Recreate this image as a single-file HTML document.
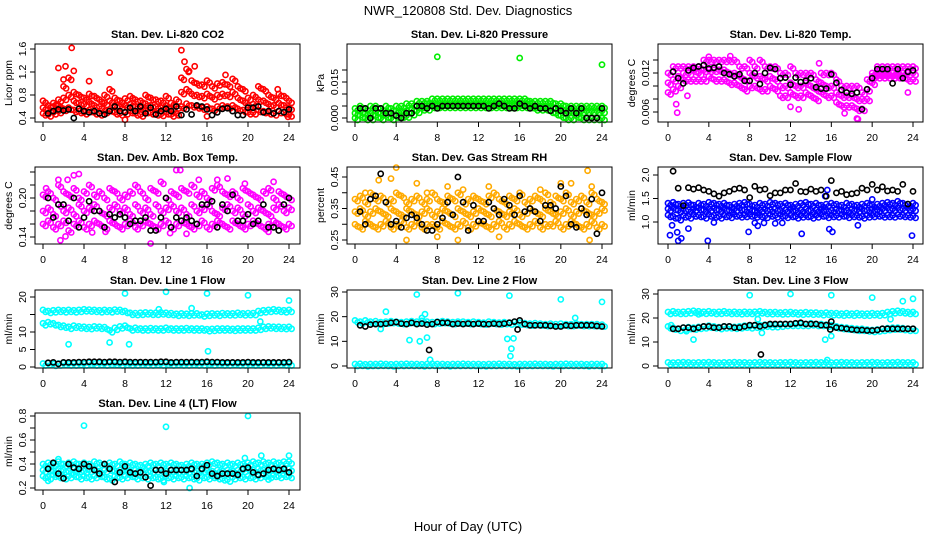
<!DOCTYPE html>
<html><head><meta charset="utf-8"><title>NWR_120808 Std. Dev. Diagnostics</title>
<style>
html,body{margin:0;padding:0;background:#fff}
svg{display:block;font-family:"Liberation Sans",Arial,sans-serif}
</style></head>
<body>
<svg id="chart" width="936" height="540" viewBox="0 0 936 540" xmlns="http://www.w3.org/2000/svg">
<text x="468" y="15" text-anchor="middle" font-size="13">NWR_120808 Std. Dev. Diagnostics</text>
<text x="468" y="531" text-anchor="middle" font-size="13">Hour of Day (UTC)</text>
</svg>
<script>
const hours=[0,0.5,1,1.5,2,2.5,3,3.5,4,4.5,5,5.5,6,6.5,7,7.5,8,8.5,9,9.5,10,10.5,11,11.5,12,12.5,13,13.5,14,14.5,15,15.5,16,16.5,17,17.5,18,18.5,19,19.5,20,20.5,21,21.5,22,22.5,23,23.5,24];
const xTicks=[0,4,8,12,16,20,24];
const xTickLabels=["0","4","8","12","16","20","24"];

// Panel 1: CO2
const co2Hi=[0.70,0.62,0.66,0.72,0.95,1.10,0.85,0.80,0.75,0.82,0.78,0.72,0.80,0.90,0.75,0.70,0.74,0.78,0.72,0.70,0.80,0.75,0.72,0.70,0.78,0.66,0.72,1.10,1.25,1.05,1.00,0.98,1.05,0.95,1.00,1.02,0.98,1.08,0.95,0.90,0.75,0.80,0.95,0.90,0.80,0.75,0.82,0.78,0.70];
const co2Mid=[0.58,0.55,0.60,0.62,0.75,0.80,0.70,0.66,0.64,0.68,0.62,0.60,0.66,0.70,0.62,0.60,0.62,0.64,0.60,0.58,0.65,0.62,0.60,0.58,0.62,0.56,0.60,0.85,0.90,0.82,0.80,0.78,0.82,0.76,0.80,0.82,0.80,0.85,0.75,0.70,0.62,0.64,0.72,0.70,0.64,0.62,0.66,0.62,0.58];
const co2Lo=[0.48,0.46,0.50,0.52,0.56,0.58,0.54,0.52,0.50,0.54,0.50,0.48,0.52,0.55,0.50,0.48,0.50,0.52,0.48,0.46,0.52,0.50,0.48,0.47,0.50,0.46,0.48,0.60,0.65,0.62,0.60,0.58,0.60,0.56,0.60,0.62,0.60,0.62,0.56,0.54,0.50,0.50,0.54,0.52,0.50,0.48,0.52,0.50,0.46];
const co2OutX=[2.8,1.5,2.2,3,6.5,4.5,13.5,13.8,14.8,8,16,23.9,17.8,22.9,2.0,14.2];
const co2OutY=[1.62,1.27,1.30,1.22,1.19,1.04,1.58,1.38,1.30,0.37,0.43,0.42,1.15,0.90,1.07,1.20];
const co2Blk=[null,0.48,0.52,0.55,0.53,0.55,0.40,0.56,0.52,0.50,0.52,0.48,0.46,0.52,0.60,0.52,0.50,0.58,0.52,0.60,0.48,0.58,0.46,0.52,0.56,0.52,0.60,0.45,0.55,0.46,0.62,0.60,0.55,0.45,0.50,0.56,0.57,0.52,0.45,0.45,0.58,0.58,0.60,0.50,0.52,0.48,0.52,0.50,0.55];

// Panel 2: Pressure
const prHi=[0.004,0.005,0.004,0.005,0.005,0.004,0.005,0.004,0.005,0.005,0.006,0.006,0.007,0.007,0.007,0.008,0.008,0.008,0.008,0.008,0.008,0.008,0.008,0.008,0.008,0.008,0.008,0.008,0.008,0.008,0.008,0.008,0.008,0.008,0.007,0.007,0.007,0.007,0.007,0.006,0.006,0.005,0.005,0.005,0.005,0.005,0.005,0.005,0.005];
const prMid=[0.002,0.003,0.002,0.002,0.003,0.002,0.003,0.002,0.003,0.003,0.003,0.004,0.005,0.005,0.006,0.006,0.006,0.006,0.006,0.006,0.006,0.006,0.006,0.006,0.006,0.006,0.006,0.006,0.006,0.006,0.006,0.006,0.006,0.006,0.006,0.005,0.005,0.005,0.005,0.004,0.004,0.003,0.003,0.003,0.003,0.003,0.003,0.003,0.003];
const prLo=[0.000,0.001,0.000,0.000,0.001,0.000,0.001,0.000,0.001,0.001,0.001,0.002,0.003,0.004,0.004,0.005,0.005,0.005,0.005,0.005,0.005,0.005,0.005,0.005,0.005,0.005,0.005,0.005,0.005,0.005,0.005,0.005,0.005,0.005,0.005,0.004,0.004,0.004,0.003,0.002,0.001,0.000,0.000,0.001,0.000,0.000,0.000,0.000,0.000];
const prOutX=[8,16,24];
const prOutY=[0.0255,0.0250,0.0222];
const prBlk=[null,0.004,0.004,0.000,0.004,0.004,0.002,0.002,0.001,0.000,0.002,0.002,0.005,0.005,0.004,0.005,0.004,0.005,0.005,0.005,0.005,0.005,0.005,0.005,0.005,0.005,0.004,0.005,0.006,0.005,0.004,0.004,0.006,0.005,0.004,0.005,0.004,0.004,0.003,0.004,0.003,0.002,0.004,0.002,0.004,0.000,0.000,0.000,0.004];

// Panel 3: Li-820 Temp
const tHi=[0.012,0.013,0.013,0.013,0.013,0.013,0.013,0.014,0.014,0.014,0.014,0.014,0.014,0.014,0.013,0.013,0.014,0.013,0.014,0.013,0.013,0.013,0.012,0.012,0.013,0.012,0.012,0.012,0.012,0.011,0.012,0.012,0.012,0.011,0.010,0.010,0.010,0.010,0.009,0.011,0.012,0.013,0.013,0.013,0.013,0.013,0.013,0.013,0.013];
const tMid=[0.0105,0.011,0.0115,0.012,0.012,0.0125,0.012,0.0125,0.0125,0.0125,0.0125,0.0125,0.012,0.012,0.0115,0.011,0.012,0.0115,0.0115,0.011,0.0115,0.011,0.010,0.010,0.0105,0.010,0.010,0.0105,0.010,0.0095,0.0105,0.010,0.010,0.009,0.0085,0.0085,0.0085,0.008,0.008,0.0095,0.0115,0.012,0.012,0.012,0.012,0.012,0.012,0.012,0.012];
const tLo=[0.009,0.0095,0.010,0.011,0.011,0.011,0.011,0.011,0.0115,0.011,0.011,0.011,0.0105,0.0105,0.010,0.0095,0.010,0.010,0.0095,0.0095,0.010,0.0095,0.0085,0.0085,0.009,0.0085,0.0085,0.009,0.0085,0.008,0.009,0.0085,0.0085,0.0075,0.0070,0.0070,0.007,0.0065,0.0065,0.008,0.0105,0.0115,0.0115,0.0115,0.0115,0.0115,0.0115,0.011,0.011];
const tOutX=[0.9,0.8,4,6.1,18.5,18.6,12.8,12,17.3,23.5,1.9,14.8];
const tOutY=[0.0059,0.0072,0.0145,0.0146,0.0050,0.0049,0.0064,0.0068,0.0058,0.0090,0.0085,0.0135];
const tBlk=[null,0.0122,0.0112,0.0104,0.0124,0.0128,0.0130,0.0132,0.0127,0.0128,0.0130,0.0120,0.0118,0.0115,0.0118,0.0108,0.0108,0.0120,0.0103,0.0120,0.0128,0.0126,0.0112,0.0113,0.0102,0.0113,0.0106,0.0108,0.0112,0.0098,0.0096,0.0096,0.0118,0.0105,0.0094,0.0090,0.0088,0.0090,0.0064,0.0095,0.0112,0.0126,0.0126,0.0126,0.0104,0.0126,0.0112,0.0122,0.0124];

// Panel 4: Amb box temp
const aHi=[0.205,0.21,0.20,0.22,0.21,0.205,0.215,0.20,0.21,0.22,0.205,0.21,0.20,0.215,0.21,0.20,0.205,0.21,0.22,0.21,0.20,0.215,0.21,0.225,0.20,0.21,0.205,0.215,0.21,0.22,0.205,0.21,0.20,0.215,0.22,0.21,0.205,0.21,0.20,0.215,0.21,0.205,0.20,0.21,0.215,0.20,0.21,0.205,0.20];
const aMid=[0.18,0.185,0.175,0.19,0.18,0.185,0.175,0.19,0.18,0.185,0.19,0.18,0.175,0.185,0.19,0.18,0.185,0.175,0.19,0.18,0.185,0.175,0.19,0.18,0.185,0.19,0.18,0.185,0.175,0.19,0.18,0.185,0.19,0.18,0.175,0.185,0.19,0.18,0.185,0.175,0.19,0.18,0.185,0.18,0.175,0.185,0.19,0.18,0.185];
const aLo=[0.16,0.165,0.155,0.16,0.165,0.15,0.16,0.165,0.155,0.16,0.165,0.16,0.155,0.165,0.16,0.155,0.16,0.165,0.155,0.16,0.165,0.16,0.155,0.16,0.165,0.155,0.16,0.165,0.16,0.155,0.16,0.165,0.155,0.16,0.165,0.16,0.155,0.165,0.16,0.155,0.16,0.165,0.16,0.155,0.16,0.165,0.16,0.155,0.16];
const aOutX=[0.3,1.5,2.4,3,3.5,1.7,10.5,13,13.4,4.8,15.2,17,18,19.7,22.5,14,12.4,6.1,22,2.2];
const aOutY=[0.215,0.228,0.228,0.235,0.237,0.135,0.130,0.243,0.243,0.147,0.228,0.228,0.230,0.222,0.225,0.145,0.146,0.148,0.148,0.141];
const aBlk=[null,0.20,0.17,0.19,0.19,0.165,0.20,0.155,0.17,0.195,0.18,0.18,0.155,0.175,0.17,0.175,0.17,0.16,0.165,0.165,0.17,0.15,0.15,0.17,0.20,0.155,0.17,0.165,0.17,0.165,0.16,0.19,0.19,0.195,0.155,0.19,0.18,0.205,0.165,0.165,0.175,0.16,0.165,0.19,0.155,0.155,0.15,0.19,0.20];

// Panel 5: Gas stream RH
const rHi=[0.38,0.39,0.37,0.40,0.38,0.39,0.37,0.38,0.40,0.39,0.37,0.38,0.39,0.37,0.38,0.40,0.38,0.37,0.39,0.38,0.40,0.37,0.38,0.39,0.38,0.37,0.39,0.40,0.38,0.37,0.39,0.38,0.40,0.37,0.38,0.39,0.38,0.40,0.37,0.39,0.38,0.40,0.37,0.38,0.39,0.37,0.40,0.38,0.37];
const rMid=[0.34,0.35,0.33,0.34,0.35,0.34,0.33,0.35,0.34,0.33,0.35,0.34,0.33,0.34,0.35,0.33,0.34,0.35,0.34,0.33,0.35,0.34,0.33,0.34,0.35,0.34,0.33,0.35,0.34,0.33,0.34,0.35,0.33,0.34,0.35,0.34,0.33,0.35,0.34,0.33,0.34,0.35,0.33,0.34,0.35,0.34,0.33,0.34,0.35];
const rLo=[0.30,0.29,0.31,0.30,0.29,0.30,0.31,0.29,0.30,0.31,0.29,0.30,0.31,0.29,0.30,0.30,0.29,0.31,0.30,0.29,0.30,0.31,0.29,0.30,0.31,0.30,0.29,0.30,0.31,0.29,0.30,0.31,0.30,0.29,0.30,0.31,0.29,0.30,0.30,0.31,0.29,0.30,0.31,0.30,0.29,0.30,0.31,0.29,0.30];
const rOutX=[4,2.3,3.5,1,7,9,10.5,13,18,20,21,22.6,23,5,10,14,22.8,8,6];
const rOutY=[0.48,0.44,0.445,0.40,0.40,0.42,0.41,0.42,0.41,0.43,0.43,0.47,0.42,0.25,0.25,0.26,0.25,0.26,0.43];
const rBlk=[null,0.34,0.30,0.38,0.39,0.46,0.37,0.30,0.31,0.29,0.32,0.33,0.32,0.30,0.28,0.28,0.30,0.32,0.37,0.33,0.45,0.37,0.28,0.36,0.31,0.31,0.37,0.35,0.33,0.38,0.36,0.33,0.39,0.34,0.35,0.34,0.31,0.36,0.36,0.35,0.42,0.39,0.30,0.29,0.35,0.33,0.38,0.27,0.40];

// Panel 6: Sample flow
const sHi=[1.40,1.42,1.38,1.40,1.41,1.36,1.40,1.38,1.42,1.40,1.38,1.40,1.36,1.38,1.40,1.42,1.38,1.36,1.40,1.38,1.42,1.40,1.38,1.40,1.36,1.38,1.40,1.42,1.38,1.40,1.36,1.38,1.40,1.38,1.36,1.40,1.38,1.36,1.38,1.40,1.36,1.38,1.40,1.42,1.40,1.44,1.40,1.38,1.40];
const sMid=[1.28,1.30,1.25,1.28,1.26,1.28,1.30,1.26,1.28,1.30,1.26,1.28,1.25,1.28,1.30,1.26,1.28,1.24,1.26,1.28,1.26,1.28,1.25,1.26,1.28,1.25,1.26,1.28,1.25,1.26,1.28,1.26,1.25,1.28,1.26,1.25,1.28,1.26,1.28,1.25,1.28,1.26,1.28,1.30,1.28,1.30,1.28,1.30,1.28];
const sLo=[1.15,1.12,1.08,1.14,1.12,1.16,1.15,1.12,1.16,1.14,1.12,1.15,1.13,1.16,1.14,1.15,1.16,1.14,1.15,1.13,1.16,1.14,1.16,1.13,1.15,1.12,1.14,1.15,1.12,1.14,1.16,1.13,1.15,1.14,1.16,1.13,1.15,1.14,1.12,1.14,1.15,1.16,1.14,1.15,1.14,1.16,1.15,1.14,1.13];
const sOutX=[0.2,0.4,0.9,1,1.3,2,3.9,4.5,7.9,8.5,8.8,9.4,10.5,11.2,13.1,15.8,16.1,18.6,23.9,15.6,20,15.4];
const sOutY=[0.72,0.93,0.78,0.60,0.65,0.86,0.60,0.99,0.79,0.98,0.92,0.98,0.97,0.98,0.75,0.85,0.79,0.93,0.71,1.68,1.48,1.55];
const sBlk=[null,2.08,1.72,1.35,1.73,1.70,1.73,1.68,1.65,1.60,1.55,1.62,1.65,1.70,1.72,1.68,1.52,1.76,1.68,1.70,1.56,1.62,1.62,1.68,1.68,1.82,1.65,1.64,1.70,1.65,1.68,1.55,1.88,1.62,1.65,1.58,1.60,1.62,1.72,1.68,1.80,1.68,1.75,1.66,1.68,1.65,1.80,1.38,1.65];

// Panel 7: Line 1 flow
const l1Hi=[16.3,16.0,16.2,16.3,16.2,16.3,16.2,16.3,16.5,16.4,16.3,16.2,16.3,16.2,16.4,16.3,16.0,15.5,15.4,15.5,15.6,15.5,15.5,15.6,15.5,15.4,15.2,15.3,15.2,15.3,15.3,15.0,15.2,15.3,15.2,15.4,15.3,15.3,15.5,15.3,15.4,15.4,16.0,16.2,16.3,16.5,16.3,16.2,16.3];
const l1Mid=[12.5,12.8,12.5,12.0,11.8,11.5,11.8,11.6,11.5,11.4,11.6,11.5,11.4,10.5,11.2,11.6,11.8,11.0,11.2,11.0,11.0,11.1,11.0,11.0,11.2,11.0,11.0,11.0,11.1,11.0,11.0,11.0,10.8,10.9,11.0,11.0,11.0,10.9,11.0,11.0,11.0,11.0,11.2,11.5,11.6,11.5,11.5,11.4,11.5];
const l1Lo=[1.0,1.1,0.9,1.0,1.1,1.0,1.0,1.1,1.0,1.2,1.0,1.1,1.0,1.2,1.1,1.0,1.1,1.0,1.0,1.1,1.0,1.0,1.1,1.0,1.2,1.0,1.1,1.0,1.0,1.1,1.0,1.0,1.2,1.0,1.1,1.0,1.0,1.1,1.0,1.0,1.1,1.0,1.0,1.1,1.0,1.0,1.1,1.0,1.0];
const l1OutX=[2.5,6.5,8.4,8,12,16,20,24,16.1,21.2,14.5,11.3];
const l1OutY=[6.5,7.0,6.5,21.0,21.5,21.0,20.5,19.0,4.5,13.0,16.8,16.5];
const l1Blk=[null,1.2,1.3,0.9,1.3,1.3,1.3,1.4,1.4,1.5,1.5,1.5,1.4,1.5,1.5,1.4,1.5,1.4,1.4,1.4,1.4,1.4,1.4,1.5,1.5,1.3,1.4,1.4,1.4,1.4,1.4,1.4,1.5,1.4,1.4,1.3,1.3,1.3,1.3,1.3,1.4,1.3,1.3,1.3,1.3,1.3,1.3,1.3,1.4];

// Panel 8: Line 2 flow
const l2Hi=[18.5,18.0,18.5,18.0,18.2,17.8,18.0,18.2,18.0,17.8,18.0,18.2,18.0,18.3,18.0,17.8,18.0,18.2,18.0,17.8,18.0,18.0,17.8,18.0,17.8,17.6,18.0,17.8,17.6,17.8,17.6,17.8,17.6,17.4,17.2,17.4,17.2,17.0,17.2,17.0,17.2,17.0,17.0,17.2,17.0,17.0,17.0,17.0,16.8];
const l2Lo=[0.8,0.9,0.7,0.8,0.8,0.9,0.8,0.7,0.8,0.8,0.9,0.8,0.8,0.7,0.8,0.9,0.8,0.8,0.7,0.8,0.8,0.9,0.8,0.8,0.8,0.7,0.8,0.8,0.9,0.8,0.8,0.7,0.8,0.8,0.8,0.9,0.8,0.8,0.7,0.8,0.8,0.9,0.8,0.8,0.8,0.7,0.8,0.8,0.8];
const l2OutX=[3,5.3,6,6.3,6.5,6.8,7,7.3,10,15,14.8,15.1,15.2,15.4,20,21.4,24,2.5];
const l2OutY=[22,10.5,29,10,19.5,21,11.5,2.5,29.5,28.5,11,4,7,11.2,27,19.5,26,15];
const l2Blk=[null,16.5,16.0,16.8,17.0,17.0,17.2,17.5,17.8,17.2,17.0,17.5,17.0,17.2,16.8,17.0,17.8,17.5,17.5,17.0,17.2,17.0,17.2,17.0,17.2,17.0,17.0,17.2,17.0,17.2,17.5,18.0,18.5,17.0,16.5,16.5,16.5,16.5,16.3,16.0,16.0,16.5,16.3,16.5,16.5,16.5,16.5,16.2,16.0];
const l2BlkOutX=[7.2,15.8];
const l2BlkOutY=[6.5,14.8];

// Panel 9: Line 3 flow
const l3Hi=[22.5,22.8,22.5,22.6,22.8,23.0,22.8,22.6,22.8,22.5,22.6,22.8,22.5,22.6,22.4,22.6,22.5,22.6,22.8,22.5,22.4,22.5,22.3,22.4,22.5,22.3,22.2,22.4,22.2,22.3,22.0,22.2,22.0,22.0,21.8,22.0,21.8,22.0,21.8,21.8,22.0,21.8,22.0,22.5,22.8,23.0,22.8,22.5,22.5];
const l3Mid=[16.5,16.0,15.5,16.0,16.2,16.0,16.3,16.5,16.8,16.5,16.2,16.5,16.5,16.3,16.5,16.8,16.5,16.8,17.0,17.2,17.0,17.0,17.2,17.5,17.5,17.5,17.5,17.5,17.8,17.5,17.5,17.2,17.0,16.5,16.2,16.0,15.8,15.5,15.5,15.2,15.0,15.2,15.5,15.8,16.0,16.0,15.8,15.5,15.5];
const l3Lo=[1.5,1.4,1.5,1.6,1.5,1.4,1.5,1.5,1.6,1.5,1.4,1.5,1.5,1.6,1.5,1.5,1.4,1.5,1.6,1.5,1.5,1.4,1.5,1.5,1.6,1.5,1.4,1.5,1.5,1.6,1.5,1.5,1.4,1.5,1.6,1.5,1.5,1.4,1.5,1.5,1.6,1.5,1.4,1.5,1.5,1.6,1.5,1.5,1.5];
const l3OutX=[0.3,1.8,2.5,3,8,12,16,20,8.8,9.2,15.4,15.6,16,23,24,21.8];
const l3OutY=[17,14.5,11,21.5,29.5,30,29.5,28.5,19.5,13.8,11,2.5,12.5,27,28,19.5];
const l3Blk=[null,15.5,15.5,16.0,16.0,15.5,16.0,16.5,16.5,16.0,16.0,16.5,16.5,16.0,16.0,16.5,17.0,17.0,16.5,17.0,17.5,17.5,17.5,17.5,17.5,17.8,18.0,17.5,17.5,17.5,17.0,17.0,18.5,16.0,15.8,15.5,15.2,15.0,15.0,14.8,14.8,15.0,15.5,15.5,15.5,15.5,15.5,15.5,15.5];
const l3BlkOutX=[9.1,15.9];
const l3BlkOutY=[4.8,15.2];

// Panel 10: Line 4 (LT) flow
const l4Hi=[0.40,0.41,0.40,0.42,0.40,0.41,0.42,0.40,0.41,0.40,0.42,0.41,0.40,0.41,0.40,0.42,0.40,0.41,0.40,0.39,0.40,0.41,0.40,0.41,0.40,0.41,0.40,0.39,0.40,0.41,0.40,0.40,0.41,0.42,0.41,0.40,0.41,0.40,0.41,0.40,0.41,0.42,0.41,0.42,0.41,0.42,0.41,0.42,0.42];
const l4Mid=[0.35,0.36,0.34,0.36,0.35,0.34,0.36,0.35,0.34,0.35,0.36,0.34,0.35,0.36,0.34,0.35,0.35,0.34,0.35,0.34,0.35,0.34,0.35,0.35,0.34,0.35,0.34,0.35,0.34,0.35,0.34,0.35,0.35,0.34,0.35,0.34,0.35,0.34,0.35,0.35,0.36,0.35,0.36,0.35,0.36,0.35,0.36,0.35,0.36];
const l4Lo=[0.30,0.29,0.31,0.30,0.29,0.30,0.31,0.29,0.30,0.29,0.30,0.31,0.29,0.28,0.30,0.29,0.30,0.31,0.29,0.30,0.29,0.30,0.29,0.28,0.30,0.29,0.30,0.29,0.30,0.29,0.28,0.30,0.29,0.30,0.29,0.28,0.27,0.29,0.30,0.29,0.30,0.29,0.30,0.31,0.30,0.31,0.30,0.31,0.30];
const l4OutX=[4,12,20,14.3,0.5,24,21.3,1.5,19.7,22,11.8];
const l4OutY=[0.72,0.71,0.80,0.20,0.26,0.47,0.47,0.44,0.45,0.27,0.25];
const l4Blk=[null,0.36,0.41,0.32,0.28,0.40,0.37,0.36,0.40,0.38,0.35,0.32,0.40,0.36,0.25,0.33,0.38,0.33,0.32,0.33,0.29,0.22,0.35,0.35,0.32,0.35,0.35,0.35,0.35,0.36,0.30,0.36,0.39,0.32,0.30,0.32,0.32,0.32,0.31,0.36,0.37,0.33,0.31,0.32,0.35,0.36,0.35,0.36,0.33];

const SVGNS="http://www.w3.org/2000/svg";
const svg=document.getElementById('chart');
const colX=[{l:35,r:300,x0:43,x1:289},{l:347,r:612,x0:355,x1:602},{l:658,r:923,x0:668,x1:913}];
const rowY=[{t:44,b:122},{t:167,b:244},{t:290,b:368},{t:413,b:490}];

function mk(tag,attrs,parent){const e=document.createElementNS(SVGNS,tag);for(const k in attrs)e.setAttribute(k,attrs[k]);(parent||svg).appendChild(e);return e;}

function panel(p){
  const C=colX[p.col],R=rowY[p.row];
  const g=mk('g',{});
  
  
  const X=h=>C.x0+(h/24)*(C.x1-C.x0);
  const Y=v=>p.py0+(v-p.d0)/(p.d1-p.d0)*(p.py1-p.py0);
  const t=mk('text',{x:(C.l+C.r)/2,y:R.t-6,'text-anchor':'middle','font-size':'11','font-weight':'bold'},g);
  t.textContent=p.title;
  
  
  const yl=mk('text',{x:0,y:0,'text-anchor':'middle','font-size':'10.5',transform:`translate(${C.l-23},${(R.t+R.b)/2}) rotate(-90)`},g);
  yl.textContent=p.ylab;
  
  
  const clip=mk('g',{},g);
  
  
  p.series.forEach(s=>{
    const xs=s.x||hours;
    s.y.forEach((v,i)=>{
      if(v===null||v===undefined)return;
      const c=mk('circle',{cx:X(xs[i]+(s.dx||0)).toFixed(1),cy:(Y(v)+(s.dy||0)).toFixed(1),r:2.6,fill:'none',stroke:s.color,'stroke-width':1.6},clip);
      
      
    });
  });
  const box=mk('rect',{x:C.l,y:R.t,width:C.r-C.l,height:R.b-R.t,fill:'none',stroke:'#000','stroke-width':1},g);
  
  
  xTicks.forEach((h,i)=>{
    mk('line',{x1:X(h),x2:X(h),y1:R.b,y2:R.b+5,stroke:'#000'},g);
    const tl=mk('text',{x:X(h),y:R.b+19,'text-anchor':'middle','font-size':'10.5'},g);
    tl.textContent=xTickLabels[i];
    
    
  });
  p.yTicks.forEach((v,i)=>{
    const y=Y(v);
    mk('line',{x1:C.l-5,x2:C.l,y1:y,y2:y,stroke:'#000'},g);
    if(p.yLabels[i]){
      const tl=mk('text',{x:0,y:0,'text-anchor':'middle','font-size':'10.5',transform:`translate(${C.l-9},${y}) rotate(-90)`},g);
      tl.textContent=p.yLabels[i];
      
      
    }
  });
  mk('line',{x1:C.l,x2:C.l,y1:Y(p.yTicks[0]),y2:Y(p.yTicks[p.yTicks.length-1]),stroke:'#000'},g);
}

const RED='#ff0000',GRN='#00ee00',MAG='#ff00ff',ORG='#ffaa00',BLU='#0000ff',CYN='#00ffff',BLK='#000000';

function bands(arrs,color,label){
  const out=[];
  arrs.forEach(a=>{out.push({y:a,color:color,label:label});out.push({y:a,color:color,dx:0.25,dy:2,label:label});});
  return out;
}

panel({name:'panel-co2',col:0,row:0,title:'Stan. Dev. Li-820 CO2',ylab:'Licor ppm',d0:0.4,d1:1.6,py0:118,py1:49,
  yTicks:[0.4,0.8,1.2,1.6],yLabels:['0.4','0.8','1.2','1.6'],
  series:bands([co2Lo,co2Mid,co2Hi],RED,'co2-point').concat([{x:co2OutX,y:co2OutY,color:RED,label:'co2-point'},{y:co2Blk,color:BLK,label:'co2-mean-point'}])});
panel({name:'panel-pressure',col:1,row:0,title:'Stan. Dev. Li-820 Pressure',ylab:'kPa',d0:0,d1:0.015,py0:118,py1:82,
  yTicks:[0,0.005,0.01,0.015,0.02],yLabels:['0.000','','','0.015',''],
  series:bands([prLo,prMid,prHi],GRN,'pressure-point').concat([{x:prOutX,y:prOutY,color:GRN,label:'pressure-point'},{y:prBlk,color:BLK,label:'pressure-mean-point'}])});
panel({name:'panel-li820-temp',col:2,row:0,title:'Stan. Dev. Li-820 Temp.',ylab:'degrees C',d0:0.006,d1:0.012,py0:112,py1:73,
  yTicks:[0.006,0.008,0.010,0.012,0.014],yLabels:['0.006','','','0.012',''],
  series:bands([tLo,tMid,tHi],MAG,'temp-point').concat([{x:tOutX,y:tOutY,color:MAG,label:'temp-point'},{y:tBlk,color:BLK,label:'temp-mean-point'}])});
panel({name:'panel-amb-box-temp',col:0,row:1,title:'Stan. Dev. Amb. Box Temp.',ylab:'degrees C',d0:0.14,d1:0.20,py0:237,py1:198,
  yTicks:[0.14,0.16,0.18,0.20,0.22,0.24],yLabels:['0.14','','','0.20','',''],
  series:bands([aLo,aMid,aHi],MAG,'amb-temp-point').concat([{x:aOutX,y:aOutY,color:MAG,label:'amb-temp-point'},{y:aBlk,color:BLK,label:'amb-temp-mean-point'}])});
panel({name:'panel-gas-rh',col:1,row:1,title:'Stan. Dev. Gas Stream RH',ylab:'percent',d0:0.25,d1:0.45,py0:240,py1:177,
  yTicks:[0.25,0.30,0.35,0.40,0.45],yLabels:['0.25','','0.35','','0.45'],
  series:bands([rLo,rMid,rHi],ORG,'rh-point').concat([{x:rOutX,y:rOutY,color:ORG,label:'rh-point'},{y:rBlk,color:BLK,label:'rh-mean-point'}])});
panel({name:'panel-sample-flow',col:2,row:1,title:'Stan. Dev. Sample Flow',ylab:'ml/min',d0:1.0,d1:2.0,py0:222,py1:175,
  yTicks:[1.0,1.5,2.0],yLabels:['1.0','1.5','2.0'],
  series:bands([sLo,sMid,sHi],BLU,'sample-flow-point').concat([{x:sOutX,y:sOutY,color:BLU,label:'sample-flow-point'},{y:sBlk,color:BLK,label:'sample-flow-mean-point'}])});
panel({name:'panel-line1-flow',col:0,row:2,title:'Stan. Dev. Line 1 Flow',ylab:'ml/min',d0:0,d1:20,py0:367,py1:297,
  yTicks:[0,5,10,15,20],yLabels:['0','5','10','','20'],
  series:bands([l1Lo,l1Mid,l1Hi],CYN,'line1-point').concat([{x:l1OutX,y:l1OutY,color:CYN,label:'line1-point'},{y:l1Blk,color:BLK,label:'line1-mean-point'}])});
panel({name:'panel-line2-flow',col:1,row:2,title:'Stan. Dev. Line 2 Flow',ylab:'ml/min',d0:0,d1:30,py0:366,py1:292,
  yTicks:[0,10,20,30],yLabels:['0','10','20','30'],
  series:bands([l2Lo,l2Hi],CYN,'line2-point').concat([{x:l2OutX,y:l2OutY,color:CYN,label:'line2-point'},{y:l2Blk,color:BLK,label:'line2-mean-point'},{x:l2BlkOutX,y:l2BlkOutY,color:BLK,label:'line2-mean-point'}])});
panel({name:'panel-line3-flow',col:2,row:2,title:'Stan. Dev. Line 3 Flow',ylab:'ml/min',d0:0,d1:30,py0:366,py1:294,
  yTicks:[0,10,20,30],yLabels:['0','10','20','30'],
  series:bands([l3Lo,l3Mid,l3Hi],CYN,'line3-point').concat([{x:l3OutX,y:l3OutY,color:CYN,label:'line3-point'},{y:l3Blk,color:BLK,label:'line3-mean-point'},{x:l3BlkOutX,y:l3BlkOutY,color:BLK,label:'line3-mean-point'}])});
panel({name:'panel-line4-flow',col:0,row:3,title:'Stan. Dev. Line 4 (LT) Flow',ylab:'ml/min',d0:0.2,d1:0.8,py0:488,py1:416,
  yTicks:[0.2,0.3,0.4,0.5,0.6,0.7,0.8],yLabels:['0.2','','0.4','','0.6','','0.8'],
  series:bands([l4Lo,l4Mid,l4Hi],CYN,'line4-point').concat([{x:l4OutX,y:l4OutY,color:CYN,label:'line4-point'},{y:l4Blk,color:BLK,label:'line4-mean-point'}])});
</script>
</body></html>
